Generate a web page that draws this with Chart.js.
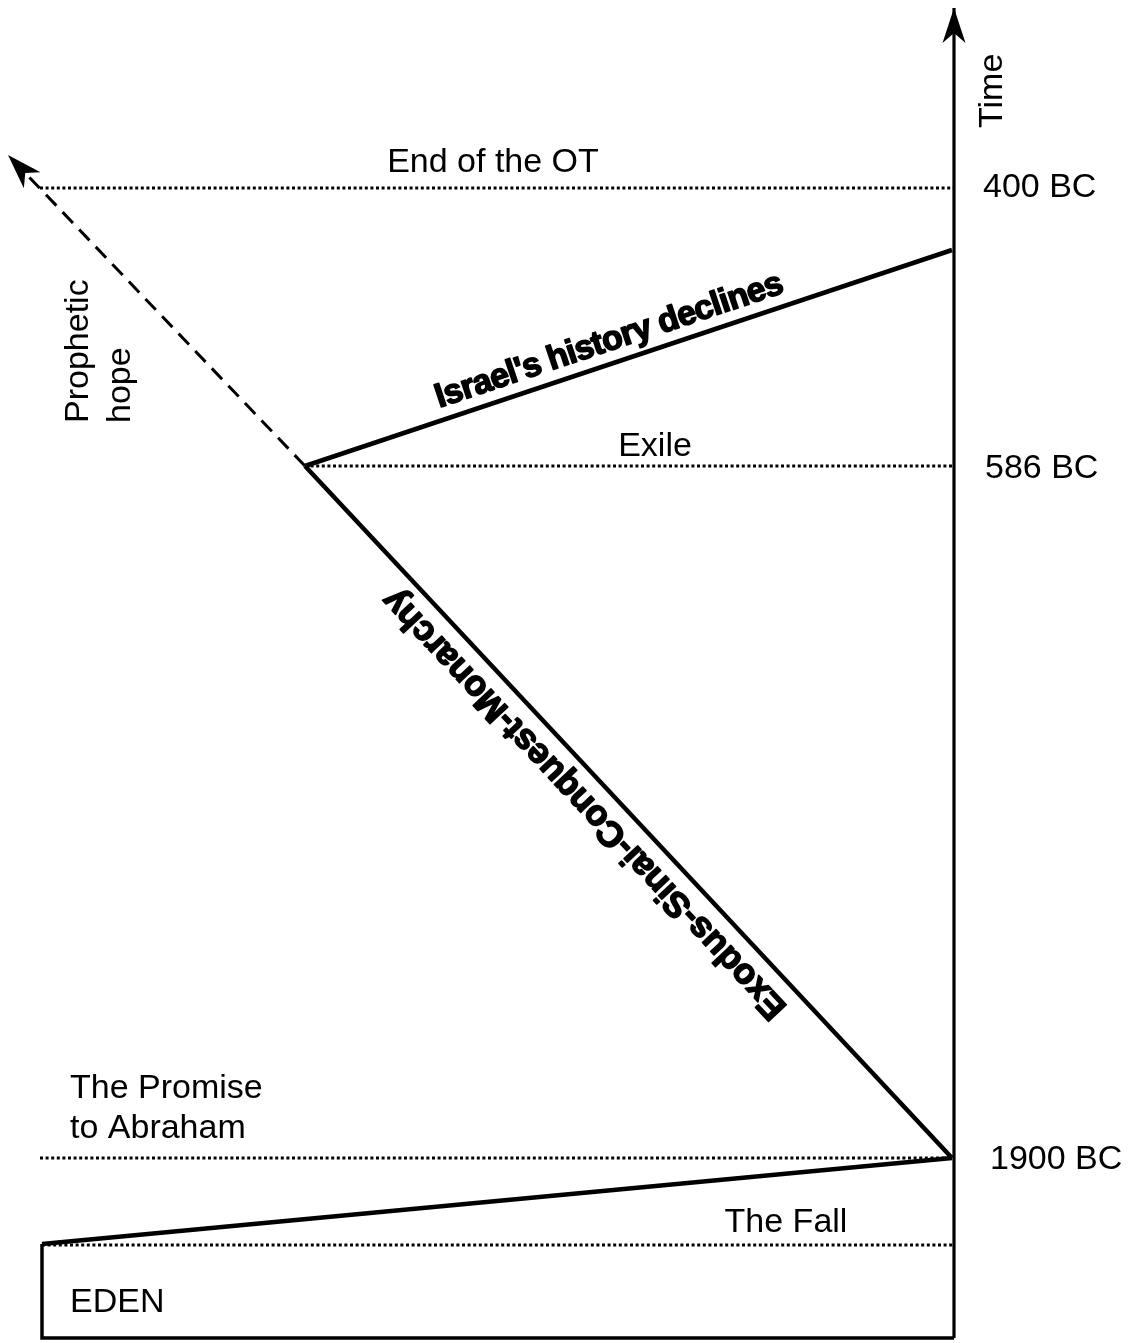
<!DOCTYPE html>
<html>
<head>
<meta charset="utf-8">
<title>Old Testament timeline</title>
<script src="https://cdn.jsdelivr.net/npm/chart.js@4"></script>
<style>
  html, body { margin: 0; padding: 0; background: #fff; }
  #wrap { width: 1136px; height: 1343px; }
</style>
</head>
<body>
<div id="wrap"><canvas id="timeline" width="1136" height="1343"></canvas></div>
<script>
// diagram units: x from the left edge, y from the top (0..1136 / 0..1343)
const axisX = [954, 954];
const axisY = [1338, 8];

// dotted era lines: 400 BC, 586 BC, 1900 BC, the Fall
const eraNames = ['400 BC', '586 BC', '1900 BC'];
const eraY = [188, 466, 1158, 1245];
const eraStartX = [40, 305, 40, 42];

const declineX = [305, 952];
const declineY = [466, 250];
const exodusX = [952, 305];
const exodusY = [1158, 466];
const fallX = [42, 952];
const fallY = [1244, 1158];
const edenX = [42, 42, 954];
const edenY = [1244, 1338, 1338];
const hopeX = [305, 8];
const hopeY = [466, 155];

function pts(xs, ys) {
  return xs.map(function (x, i) { return { x: x, y: ys[i] }; });
}

var FONT = '"Liberation Sans", Arial, Helvetica, sans-serif';

var solid = { borderColor: '#000', borderWidth: 4.5, showLine: true, pointRadius: 0, clip: false, borderJoinStyle: 'miter' };

var datasets = [];
// time axis
datasets.push(Object.assign({}, solid, { data: pts(axisX, axisY), borderWidth: 3.2, arrowHead: true }));
// dotted lines
eraY.forEach(function (y, i) {
  datasets.push(Object.assign({}, solid, {
    data: pts([eraStartX[i], axisX[0]], [y, y]),
    borderWidth: 3, borderDash: [3, 2.6]
  }));
});
datasets.push(Object.assign({}, solid, { data: pts(declineX, declineY) }));
datasets.push(Object.assign({}, solid, { data: pts(exodusX, exodusY) }));
datasets.push(Object.assign({}, solid, { data: pts(fallX, fallY) }));
datasets.push(Object.assign({}, solid, { data: pts(edenX, edenY), borderWidth: 3.5 }));
// prophetic hope
datasets.push(Object.assign({}, solid, { data: pts(hopeX, hopeY), borderWidth: 3, borderDash: [15, 9], arrowHead: true }));

// text labels (positions in diagram units)
var labels = [
  { text: 'Time', x: 1002, y: 128, rot: -90, align: 'left' },
  { text: 'End of the OT', x: 493, y: 172, align: 'center' },
  { text: eraNames[0], x: 983, y: eraY[0], align: 'left', base: 'middle' },
  { text: 'Exile', x: 655, y: 456, align: 'center' },
  { text: eraNames[1], x: 985, y: eraY[1] + 3, align: 'left', base: 'middle' },
  { text: 'Prophetic', x: 88, y: 423, rot: -90, align: 'left' },
  { text: 'hope', x: 130, y: 423, rot: -90, align: 'left' },
  { text: 'The Promise', x: 70, y: 1098, align: 'left' },
  { text: 'to Abraham', x: 70, y: 1138, align: 'left' },
  { text: eraNames[2], x: 990, y: eraY[2] + 2, align: 'left', base: 'middle' },
  { text: 'The Fall', x: 786, y: 1232, align: 'center' },
  { text: 'EDEN', x: 70, y: 1312, align: 'left' },
  { text: "Israel's history declines", x: 612, y: 350, along: [declineX, declineY], bold: 34, spacing: -0.8, align: 'center' },
  { text: 'Exodus-Sinai-Conquest-Monarchy', x: 592, y: 797, along: [exodusX, exodusY], bold: 35.5, spacing: -0.2, align: 'center' }
];

var arrowPlugin = {
  id: 'arrowHeads',
  afterDatasetsDraw: function (chart) {
    var ctx = chart.ctx;
    chart.data.datasets.forEach(function (ds, i) {
      if (!ds.arrowHead) return;
      var pts = chart.getDatasetMeta(i).data;
      var a = pts[pts.length - 2], b = pts[pts.length - 1];
      var ang = Math.atan2(b.y - a.y, b.x - a.x);
      var L = 35, W = 11.5, N = 25;
      ctx.save();
      ctx.translate(b.x, b.y);
      ctx.rotate(ang);
      ctx.fillStyle = '#000';
      ctx.beginPath();
      ctx.moveTo(0, 0);
      ctx.lineTo(-L, -W);
      ctx.lineTo(-N, 0);
      ctx.lineTo(-L, W);
      ctx.closePath();
      ctx.fill();
      ctx.restore();
    });
  }
};

var labelPlugin = {
  id: 'diagramLabels',
  afterDraw: function (chart) {
    var ctx = chart.ctx, sx = chart.scales.x, sy = chart.scales.y;
    labels.forEach(function (l) {
      var px = sx.getPixelForValue(l.x), py = sy.getPixelForValue(l.y);
      var rot = (l.rot || 0) * Math.PI / 180;
      if (l.along) {
        var xs = l.along[0], ys = l.along[1];
        rot = Math.atan2(sy.getPixelForValue(ys[1]) - sy.getPixelForValue(ys[0]),
                         sx.getPixelForValue(xs[1]) - sx.getPixelForValue(xs[0]));
      }
      ctx.save();
      ctx.translate(px, py);
      ctx.rotate(rot);
      ctx.fillStyle = '#000';
      ctx.textAlign = l.align || 'left';
      ctx.textBaseline = l.base || 'alphabetic';
      if (l.bold) {
        ctx.font = 'bold ' + l.bold + 'px ' + FONT;
        ctx.letterSpacing = (l.spacing || 0) + 'px';
        ctx.strokeStyle = '#000';
        ctx.lineWidth = 1.6;
        ctx.lineJoin = 'round';
        ctx.strokeText(l.text, 0, 0);
      } else {
        ctx.font = '34px ' + FONT;
      }
      ctx.fillText(l.text, 0, 0);
      ctx.restore();
    });
  }
};

new Chart(document.getElementById('timeline'), {
  type: 'scatter',
  data: { datasets: datasets },
  options: {
    responsive: false,
    animation: false,
    layout: { padding: 0 },
    plugins: { legend: { display: false }, tooltip: { enabled: false } },
    scales: {
      x: { type: 'linear', min: 0, max: 1136, display: false },
      y: { type: 'linear', min: 0, max: 1343, reverse: true, display: false }
    }
  },
  plugins: [arrowPlugin, labelPlugin]
});
</script>
</body>
</html>
